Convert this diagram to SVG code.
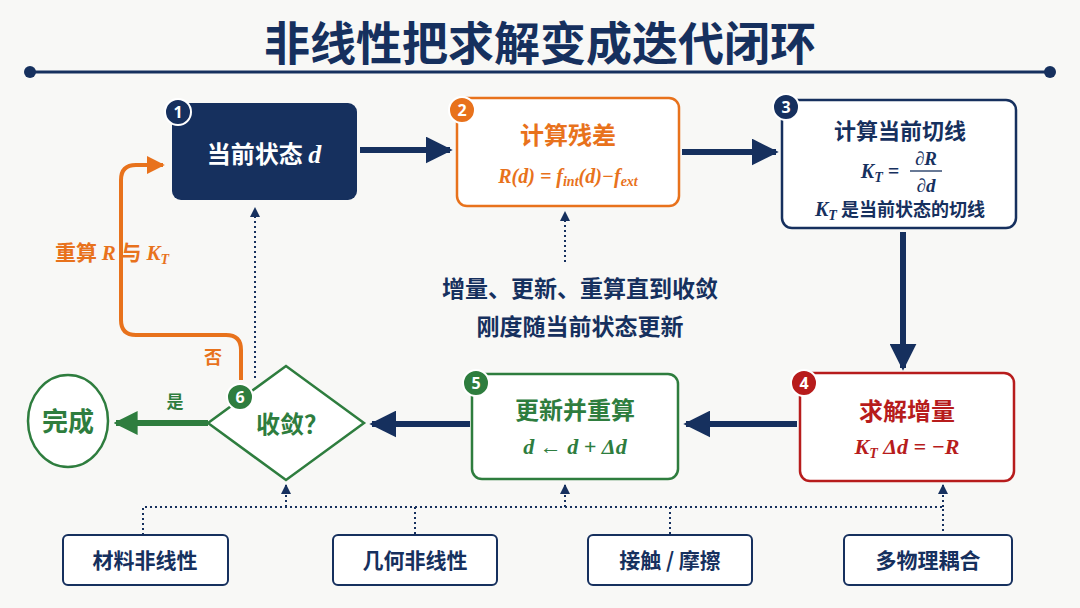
<svg xmlns="http://www.w3.org/2000/svg" width="1080" height="608" viewBox="0 0 1080 608">
<style>
text{font-family:"Noto Sans CJK SC","Noto Sans",sans-serif;font-weight:bold;text-anchor:middle}
.m{font-family:"Liberation Serif","DejaVu Serif",serif;font-style:italic;font-weight:bold}
.nv{fill:#16305e}.or{fill:#e8721c}.rd{fill:#b71c1c}.gr{fill:#2e7d3e}
.box{fill:#fff;stroke-width:2.5}
.dot{stroke:#16305e;stroke-width:2;stroke-dasharray:2 3;fill:none}
.thick{stroke:#16305e;stroke-width:6;fill:none}
.badge{stroke:#fff;stroke-width:2}
.bt{fill:#fff;font-size:17;font-family:"Noto Sans",sans-serif}
.bot{fill:#fff;stroke:#16305e;stroke-width:2}
</style>
<defs>
<marker id="an" viewBox="0 0 10 10" refX="9" refY="5" markerWidth="4.5" markerHeight="4.5" orient="auto" markerUnits="strokeWidth"><path d="M0,0L10,5L0,10z" fill="#16305e"/></marker>
<marker id="ag" viewBox="0 0 10 10" refX="9" refY="5" markerWidth="4" markerHeight="4" orient="auto" markerUnits="strokeWidth"><path d="M0,0L10,5L0,10z" fill="#2e7d3e"/></marker>
<marker id="ao" viewBox="0 0 10 10" refX="9" refY="5" markerWidth="4.5" markerHeight="4.5" orient="auto" markerUnits="strokeWidth"><path d="M0,0L10,5L0,10z" fill="#e8721c"/></marker>
<marker id="ad" viewBox="0 0 10 10" refX="9" refY="5" markerWidth="5" markerHeight="5" orient="auto" markerUnits="strokeWidth"><path d="M0,0L10,5L0,10z" fill="#16305e"/></marker>
</defs>
<rect width="1080" height="608" fill="#f8f8f6"/>
<text x="540" y="60" class="nv" font-size="46">非线性把求解变成迭代闭环</text>
<line x1="30" y1="72" x2="1050" y2="72" stroke="#16305e" stroke-width="3"/>
<circle cx="30" cy="72" r="6" fill="#16305e"/><circle cx="1050" cy="72" r="6" fill="#16305e"/>

<g id="connectors">
<line x1="360" y1="150" x2="450" y2="150" class="thick" marker-end="url(#an)"/>
<line x1="682" y1="152" x2="776" y2="152" class="thick" marker-end="url(#an)"/>
<line x1="903" y1="232" x2="903" y2="368" class="thick" marker-end="url(#an)"/>
<line x1="797" y1="424" x2="686" y2="424" class="thick" marker-end="url(#an)"/>
<line x1="470" y1="424" x2="372" y2="424" class="thick" marker-end="url(#an)"/>
<line x1="208" y1="423" x2="116" y2="423" stroke="#2e7d3e" stroke-width="6" marker-end="url(#ag)"/>
<path d="M241,380V350Q241,335 226,335H136Q121,335 121,320V180Q121,165 136,165H163" stroke="#e8721c" stroke-width="4" fill="none" marker-end="url(#ao)"/>
<line x1="255" y1="378" x2="255" y2="208" class="dot" marker-end="url(#ad)"/>
<line x1="565" y1="262" x2="565" y2="212" class="dot" marker-end="url(#ad)"/>
<path d="M143,535V507H943V535M415,507V535M670,507V535" class="dot"/>
<line x1="286" y1="507" x2="286" y2="485" class="dot" marker-end="url(#ad)"/>
<line x1="565" y1="507" x2="565" y2="485" class="dot" marker-end="url(#ad)"/>
<line x1="943" y1="507" x2="943" y2="485" class="dot" marker-end="url(#ad)"/>
</g>

<g id="n1">
<rect x="172" y="103" width="185" height="97" rx="9" fill="#16305e"/>
<text x="264" y="163" fill="#fff" font-size="24">当前状态 <tspan class="m" font-size="26">d</tspan></text>
<circle cx="178" cy="112" r="13" fill="#16305e" class="badge"/><text x="178" y="118" class="bt">1</text>
</g>
<g id="n2">
<rect x="457" y="98" width="222" height="108" rx="10" class="box" stroke="#e8721c"/>
<text x="568" y="144" class="or" font-size="24">计算残差</text>
<text x="568" y="183" class="or m" font-size="20">R(d) = f<tspan font-size="14" dy="3">int</tspan><tspan dy="-3">(d)−f</tspan><tspan font-size="14" dy="3">ext</tspan></text>
<circle cx="462" cy="110" r="13" fill="#e8721c" class="badge"/><text x="462" y="116" class="bt">2</text>
</g>
<g id="n3">
<rect x="782" y="100" width="234" height="128" rx="10" class="box" stroke="#16305e"/>
<text x="900" y="139" class="nv" font-size="22">计算当前切线</text>
<text x="880" y="178" class="nv m" font-size="20">K<tspan font-size="14" dy="4">T</tspan><tspan dy="-4"> = </tspan></text>
<text x="926" y="165" class="nv m" font-size="19">∂R</text>
<line x1="910" y1="171" x2="942" y2="171" stroke="#16305e" stroke-width="1.3"/>
<text x="926" y="192" class="nv m" font-size="19">∂d</text>
<text x="900" y="216" class="nv" font-size="18"><tspan class="m" font-size="20">K</tspan><tspan class="m" font-size="14" dy="4">T</tspan><tspan dy="-4"> 是当前状态的切线</tspan></text>
<circle cx="786" cy="107" r="13" fill="#16305e" class="badge"/><text x="786" y="113" class="bt">3</text>
</g>
<g id="n4">
<rect x="800" y="373" width="214" height="108" rx="10" class="box" stroke="#b71c1c"/>
<text x="907" y="420" class="rd" font-size="24">求解增量</text>
<text x="907" y="454" class="rd m" font-size="22">K<tspan font-size="14" dy="4">T</tspan><tspan dy="-4"> Δd = −R</tspan></text>
<circle cx="804" cy="383" r="13" fill="#b71c1c" class="badge"/><text x="804" y="389" class="bt">4</text>
</g>
<g id="n5">
<rect x="472" y="374" width="206" height="105" rx="10" class="box" stroke="#2e7d3e"/>
<text x="575" y="419" class="gr" font-size="24">更新并重算</text>
<text x="575" y="454" class="gr m" font-size="22">d ← d + Δd</text>
<circle cx="476" cy="383" r="13" fill="#2e7d3e" class="badge"/><text x="476" y="389" class="bt">5</text>
</g>
<g id="n6">
<polygon points="208,423 286,366 364,423 286,480" fill="#fff" stroke="#2e7d3e" stroke-width="2.5"/>
<text x="292" y="433" class="gr" font-size="24">收敛？</text>
<circle cx="240" cy="397" r="13" fill="#2e7d3e" class="badge"/><text x="240" y="403" class="bt">6</text>
</g>
<g id="done">
<ellipse cx="68" cy="421" rx="40" ry="46" fill="#fff" stroke="#2e7d3e" stroke-width="2.5"/>
<text x="68" y="431" class="gr" font-size="26">完成</text>
</g>
<text x="112" y="260" class="or" font-size="21">重算 <tspan class="m">R</tspan> 与 <tspan class="m">K</tspan><tspan class="m" font-size="14" dy="4">T</tspan></text>
<text x="213" y="364" class="or" font-size="18">否</text>
<text x="175" y="408" class="gr" font-size="17">是</text>
<text x="580" y="297" class="nv" font-size="23">增量、更新、重算直到收敛</text>
<text x="580" y="335" class="nv" font-size="23">刚度随当前状态更新</text>
<g id="b1"><rect x="63" y="535" width="165" height="50" rx="5" class="bot"/><text x="145" y="568" class="nv" font-size="21">材料非线性</text></g>
<g id="b2"><rect x="333" y="535" width="164" height="50" rx="5" class="bot"/><text x="415" y="568" class="nv" font-size="21">几何非线性</text></g>
<g id="b3"><rect x="588" y="535" width="164" height="50" rx="5" class="bot"/><text x="670" y="568" class="nv" font-size="21">接触 / 摩擦</text></g>
<g id="b4"><rect x="844" y="535" width="168" height="50" rx="5" class="bot"/><text x="928" y="568" class="nv" font-size="21">多物理耦合</text></g>
</svg>
